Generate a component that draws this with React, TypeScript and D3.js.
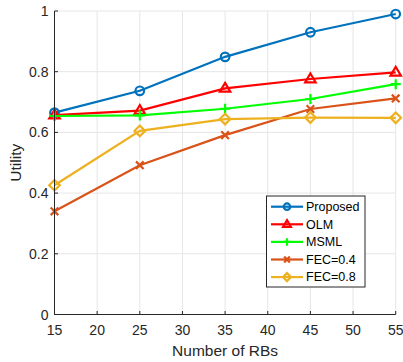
import React from "react";
import * as d3 from "d3";

const xValues = [15, 25, 35, 45, 55];
const proposed = [0.665, 0.737, 0.849, 0.93, 0.99];
const olm = [0.657, 0.672, 0.745, 0.776, 0.798];
const msml = [0.654, 0.656, 0.678, 0.71, 0.759];
const fec04 = [0.34, 0.492, 0.591, 0.677, 0.712];
const fec08 = [0.426, 0.605, 0.644, 0.649, 0.648];
const xTicks = [15, 20, 25, 30, 35, 40, 45, 50, 55];
const yTicks = [0, 0.2, 0.4, 0.6, 0.8, 1];

const seriesNames = ["Proposed", "OLM", "MSML", "FEC=0.4", "FEC=0.8"];
const seriesData = [proposed, olm, msml, fec04, fec08];
const seriesColors = ["#0072BD", "#FF0000", "#00FF00", "#D95319", "#EDB120"];
const seriesMarkers = ["circle", "triangle", "plus", "x", "diamond"];

const W = 403;
const H = 362;
const L = 54.5, R = 395.7, T = 11, B = 314.5;
const FONT = "'Liberation Sans', Arial, Helvetica, sans-serif";

function Marker({ type, x, y, color, s = 1 }: { type: string; x: number; y: number; color: string; s?: number }) {
  const sw = 2.2;
  if (type === "circle") return <circle cx={x} cy={y} r={4.3 * s} fill="none" stroke={color} strokeWidth={sw} />;
  if (type === "triangle") {
    const r = 5.5 * s;
    const p = `${x},${y - r} ${x + r * 0.95},${y + r * 0.6} ${x - r * 0.95},${y + r * 0.6}`;
    return <polygon points={p} fill="none" stroke={color} strokeWidth={sw} strokeLinejoin="miter" />;
  }
  if (type === "plus") {
    const r = 5 * s;
    return <path d={`M${x - r},${y}H${x + r}M${x},${y - r}V${y + r}`} stroke={color} strokeWidth={sw} />;
  }
  if (type === "x") {
    const r = 3.8 * s;
    return <path d={`M${x - r},${y - r}L${x + r},${y + r}M${x - r},${y + r}L${x + r},${y - r}`} stroke={color} strokeWidth={sw} />;
  }
  const r = 5.3 * s;
  return <polygon points={`${x},${y - r} ${x + r},${y} ${x},${y + r} ${x - r},${y}`} fill="none" stroke={color} strokeWidth={sw} />;
}

export default function App() {
  const xs = d3.scaleLinear().domain([15, 55]).range([L, R]);
  const ys = d3.scaleLinear().domain([0, 1]).range([B, T]);
  const line = d3.line<number>().x((_, i) => xs(xValues[i])).y((d) => ys(d));

  const legX = 266.5, legY = 196, legW = 98.5, legH = 91;
  return (
    <svg width={W} height={H} style={{ position: "absolute", left: 0, top: 0, background: "#fff" }}>
      <rect x={0} y={0} width={W} height={H} fill="#fff" />
      {xTicks.map((t) => (
        <line key={"gx" + t} x1={xs(t)} x2={xs(t)} y1={T} y2={B} stroke="#e6e6e6" strokeWidth={1} />
      ))}
      {yTicks.map((t) => (
        <line key={"gy" + t} x1={L} x2={R} y1={ys(t)} y2={ys(t)} stroke="#e6e6e6" strokeWidth={1} />
      ))}
      {seriesData.map((d, i) => (
        <g key={seriesNames[i]}>
          <path d={line(d) || ""} fill="none" stroke={seriesColors[i]} strokeWidth={2.2} />
          {d.map((v, j) => (
            <Marker key={j} type={seriesMarkers[i]} x={xs(xValues[j])} y={ys(v)} color={seriesColors[i]} />
          ))}
        </g>
      ))}
      <line x1={L} x2={L} y1={T} y2={B} stroke="#262626" strokeWidth={1} />
      <line x1={L} x2={R} y1={B} y2={B} stroke="#262626" strokeWidth={1} />
      {xTicks.map((t) => (
        <g key={"tx" + t}>
          <line x1={xs(t)} x2={xs(t)} y1={B} y2={B - 3.5} stroke="#262626" strokeWidth={1} />
          <text x={xs(t)} y={B + 20} textAnchor="middle" fontFamily={FONT} fontSize={14} fill="#262626">{t}</text>
        </g>
      ))}
      {yTicks.map((t) => (
        <g key={"ty" + t}>
          <line x1={L} x2={L + 3.5} y1={ys(t)} y2={ys(t)} stroke="#262626" strokeWidth={1} />
          <text x={L - 6} y={ys(t) + 5} textAnchor="end" fontFamily={FONT} fontSize={14} fill="#262626">{t}</text>
        </g>
      ))}
      <text x={(L + R) / 2} y={356} textAnchor="middle" fontFamily={FONT} fontSize={15.5} fill="#262626">Number of RBs</text>
      <text transform={`translate(20.5,${(T + B) / 2}) rotate(-90)`} textAnchor="middle" fontFamily={FONT} fontSize={15.5} fill="#262626">Utility</text>
      <rect x={legX} y={legY} width={legW} height={legH} fill="#fff" stroke="#262626" strokeWidth={1} />
      {seriesNames.map((n, i) => {
        const cy = legY + 10.7 + i * 17.6;
        return (
          <g key={"leg" + n}>
            <line x1={271} x2={303} y1={cy} y2={cy} stroke={seriesColors[i]} strokeWidth={2.2} />
            <Marker type={seriesMarkers[i]} x={287} y={cy} color={seriesColors[i]} s={0.75} />
            <text x={306} y={cy + 4.3} fontFamily={FONT} fontSize={12.5} fill="#000">{n}</text>
          </g>
        );
      })}
    </svg>
  );
}
